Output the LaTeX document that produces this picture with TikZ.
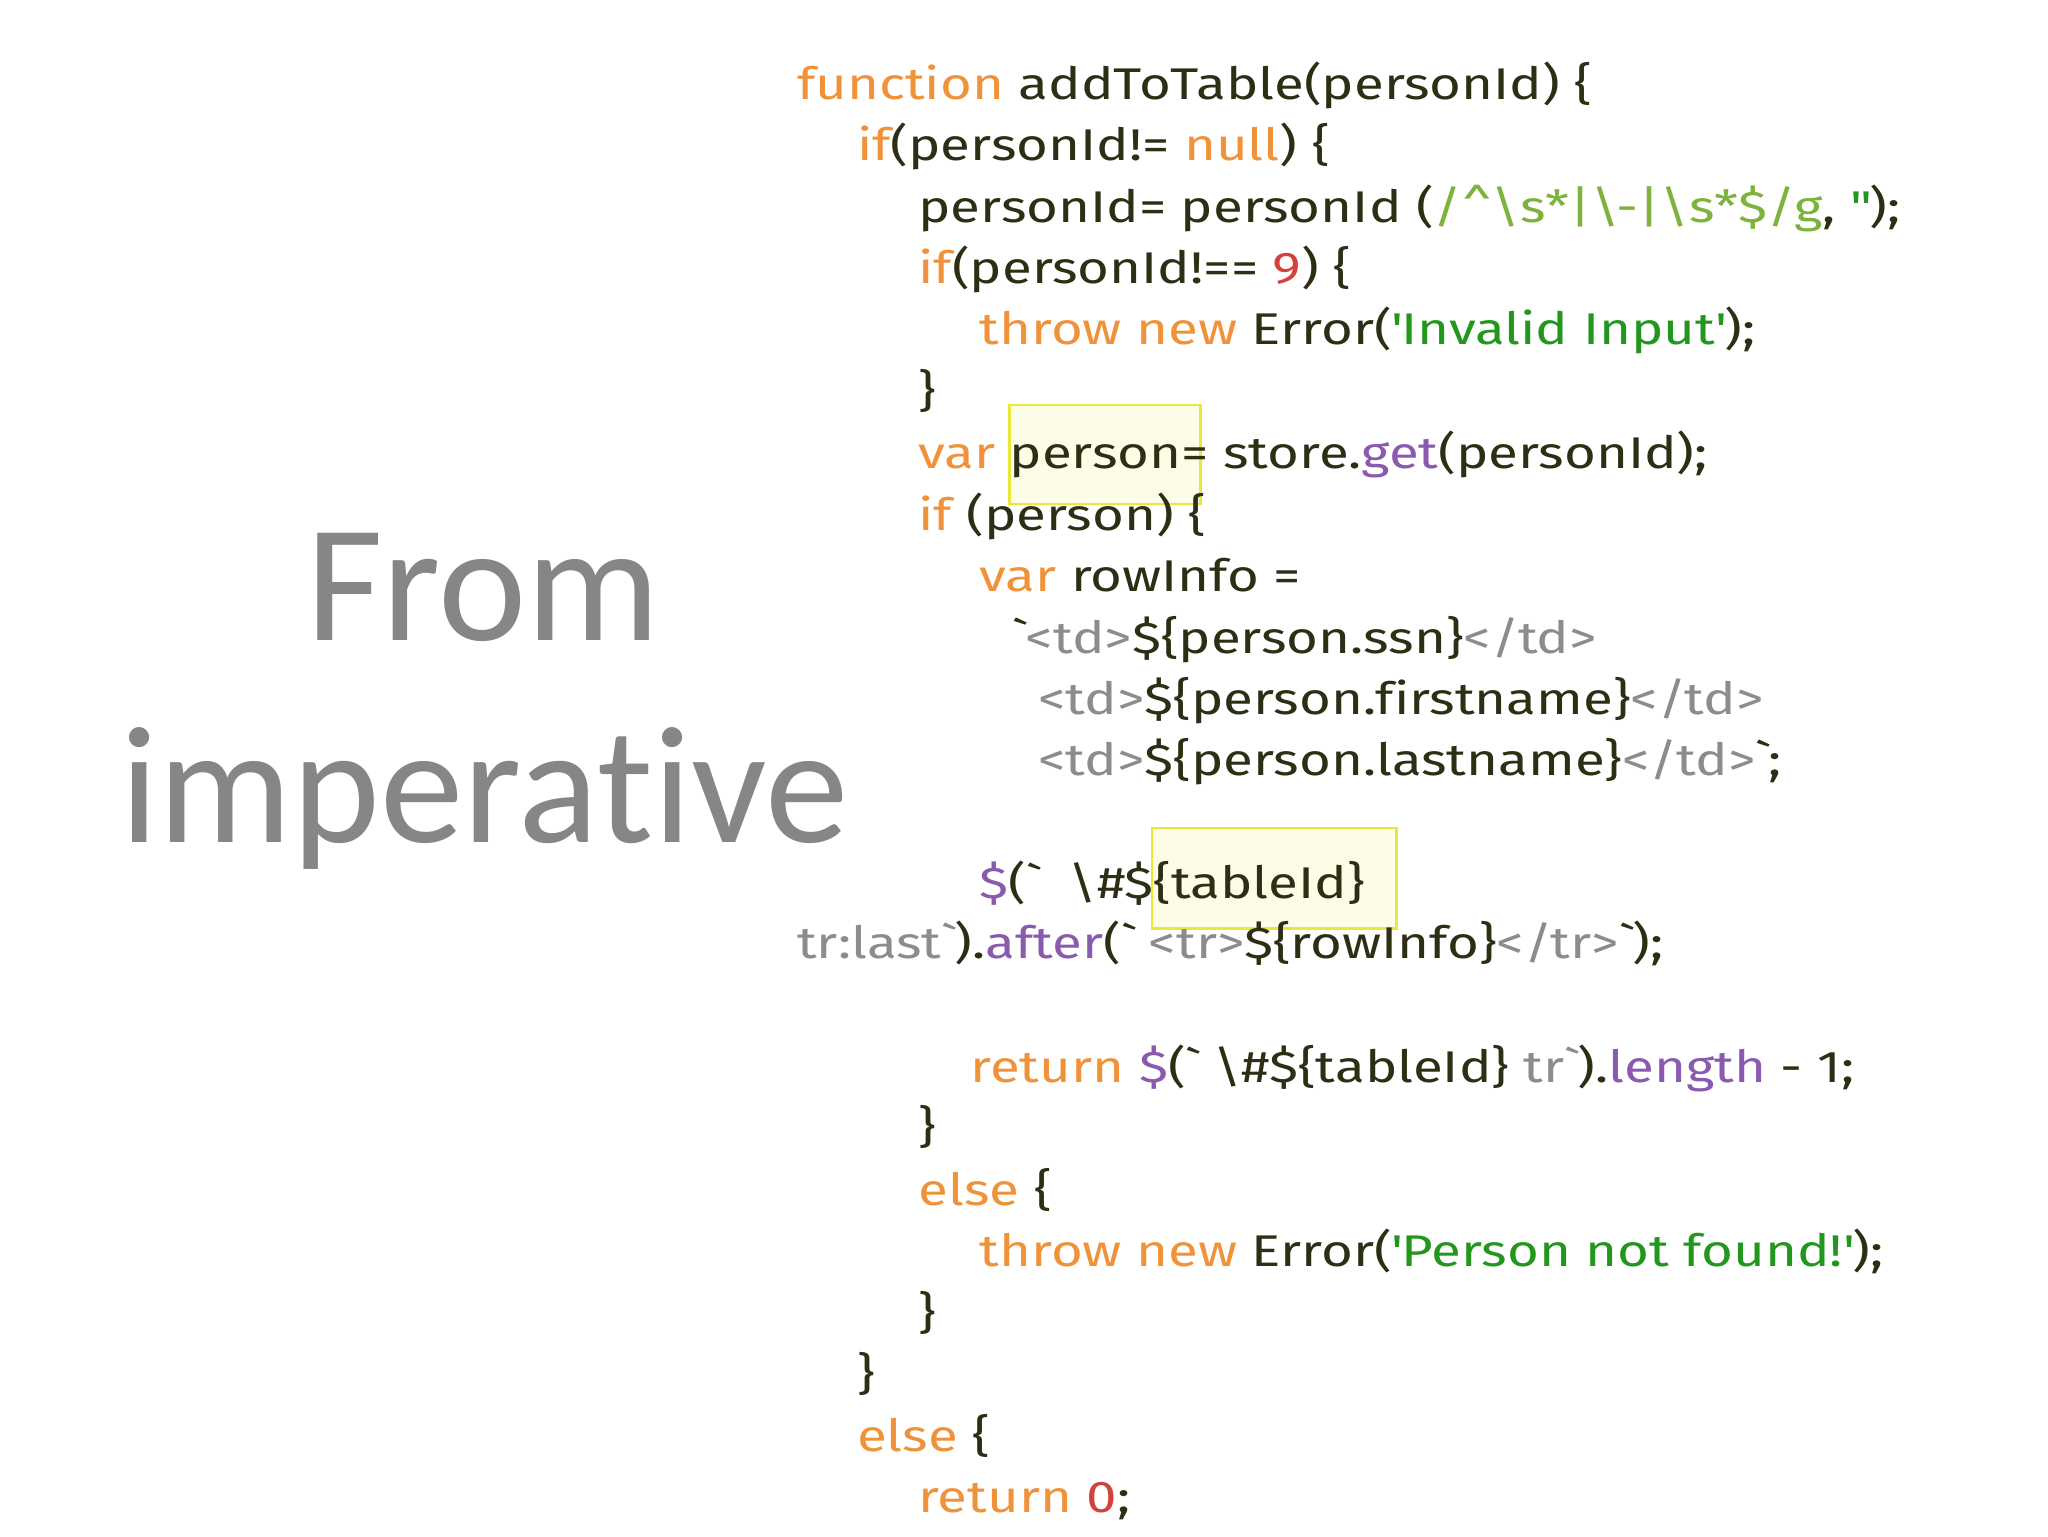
\documentclass[tikz,border=0pt]{standalone}
\usepackage{fontspec}
\newfontfamily\codef{Fira Sans}[FakeStretch=1.23,Ligatures=NoCommon]
\newfontfamily\titlef{Carlito}[Ligatures=NoCommon]
\definecolor{kw}{HTML}{F0923A}
\definecolor{tx}{HTML}{2E2E14}
\definecolor{strc}{HTML}{23961E}
\definecolor{rgx}{HTML}{7DB33C}
\definecolor{meth}{HTML}{8A5AAE}
\definecolor{num}{HTML}{D2413A}
\definecolor{tag}{HTML}{8C8C8C}
\definecolor{hl}{HTML}{E8E83A}
\newcommand{\K}[1]{\textcolor{kw}{#1}}
\newcommand{\Sg}[1]{\textcolor{strc}{#1}}
\newcommand{\R}[1]{\textcolor{rgx}{#1}}
\newcommand{\M}[1]{\textcolor{meth}{#1}}
\newcommand{\N}[1]{\textcolor{num}{#1}}
\newcommand{\G}[1]{\textcolor{tag}{#1}}
\newcommand{\bq}{\textasciigrave}
\newcommand{\sq}{\textquotesingle}
\newcommand{\bs}{\textbackslash}
\begin{document}
\begin{tikzpicture}[x=1pt,y=-1pt,
  cl/.style={anchor=base west,inner sep=0pt,text=tx,font=\codef\fontsize{34}{34}\selectfont},
  hbox/.style={draw=hl,line width=2pt,fill=hl!12}]
\useasboundingbox (0,0) rectangle (1568,1176);
\fill[white] (0,0) rectangle (1568,1176);
\node[hbox,minimum width=146,minimum height=76,anchor=north west,inner sep=0] (h1) at (772,309) {};
\node[hbox,minimum width=187,minimum height=77,anchor=north west,inner sep=0] (h2) at (881,633) {};
\node[text=gray!95,font=\titlef\fontsize{128}{128}\selectfont,anchor=base] (t1) at (370,490) {From};
\node[text=gray!95,font=\titlef\fontsize{128}{128}\selectfont,anchor=base] (t2) at (371,645) {imperative};
\node[cl] (l1) at (610,76) {\K{function} addToTable(personId) \{};
\node[cl] (l2) at (656,123) {\K{if}(personId!= \K{null}) \{};
\node[cl] (l3) at (703,170) {personId= personId (\R{/\textasciicircum\bs s*|\bs-|\bs s*\$/g}, \Sg{\sq\sq});};
\node[cl] (l4) at (703,217) {\K{if}(personId!== \N{9}) \{};
\node[cl] (l5) at (750,264) {\K{throw new} Error(\Sg{\sq Invalid Input\sq});};
\node[cl] (l6) at (703,311) {\}};
\node[cl] (l7) at (703,359) {\K{var} person= store.\M{get}(personId);};
\node[cl] (l8) at (703,406) {\K{if} (person) \{};
\node[cl] (l9) at (750,453) {\K{var} rowInfo =};
\node[cl] (l10) at (775,500) {\bq\G{<td>}\$\{person.ssn\}\G{</td>}};
\node[cl] (l11) at (795,547) {\G{<td>}\$\{person.firstname\}\G{</td>}};
\node[cl] (l12) at (795,594) {\G{<td>}\$\{person.lastname\}\G{</td>}\bq;};
\node[cl] (l13) at (750,688) {\M{\$}(\bq\ \ \bs\#\$\{tableId\}};
\node[cl] (l14) at (610,734) {\G{tr:last\bq}).\M{after}(\bq\ \G{<tr>}\$\{rowInfo\}\G{</tr>}\bq);};
\node[cl] (l15) at (743,829) {\K{return} \M{\$}(\bq\ \bs\#\$\{tableId\} \G{tr\bq}).\M{length} - 1;};
\node[cl] (l16) at (703,875) {\}};
\node[cl] (l17) at (703,923) {\K{else} \{};
\node[cl] (l18) at (750,970) {\K{throw new} Error(\Sg{\sq Person not found!\sq});};
\node[cl] (l19) at (703,1017) {\}};
\node[cl] (l20) at (656,1064) {\}};
\node[cl] (l21) at (656,1111) {\K{else} \{};
\node[cl] (l22) at (703,1158) {\K{return} \N{0};};
\end{tikzpicture}
\end{document}
